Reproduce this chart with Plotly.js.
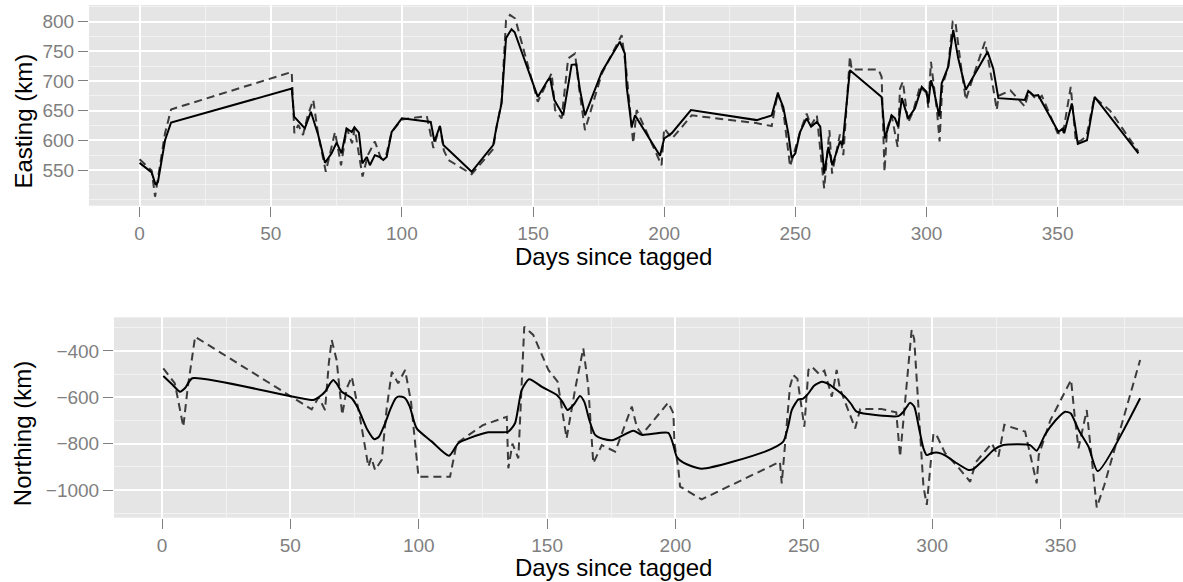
<!DOCTYPE html>
<html>
<head>
<meta charset="utf-8">
<script src="https://cdn.plot.ly/plotly-3.0.1.min.js"></script>
<style>
  html, body { margin: 0; padding: 0; background: #ffffff; }
  #chart { width: 1183px; height: 582px; }
</style>
</head>
<body>
<div id="chart"></div>
<script>
// ---- Easting: observed (dashed) ----
const dayEastObs = [0,4.6,5.9,9.7,12,58,59,60.5,62.3,64,66.2,68,71,74.5,76.8,79,81,82,85,87,89.7,92,94,96.1,100,109.5,112,114.5,116,117.7,126.6,134.8,136,138,139.7,141.2,143.2,146.3,151.8,157.1,158.4,160.9,163.4,166,167.5,169.8,176.2,183.8,185.5,188.2,189.5,199,200,203,207.3,210.5,235,241,243.3,245.4,248,251.8,254.3,256,258.2,261,263,264,267,268.3,270.8,271.5,281.7,282.9,284,285,286.7,289,289.9,291,293,295,297.5,300,300.7,301.7,304,305,306,308.3,310,311,313,315,318,322.3,325,326.8,327.5,332,337.5,339,342,344,350,352,355,357,359,361,364,370,380.8];
const eastObs = [568,549,505,612,652,715,612,626,609,640,668,612,547,614,558,620,595,620,539,575,598,570,575,614,635,641,587,624,583,567,543,585,620,665,802,811,805,753,665,713,651,637,738,746,690,617,712,777,720,595,651,558,620,603,626,642,629,624,681,650,556,614,645,625,642,519,617,544,610,575,741,719,719,707,547,620,642,589,687,699,630,650,690,680,655,732,650,598,690,725,800,800,730,668,710,766,700,651,675,684,657,683,668,675,612,610,690,596,600,607,672,650,581];

// ---- Easting: smoothed (solid) ----
const dayEastFit = [0,4.6,6.1,7,9.7,12,58,58.9,63,65.3,68.1,70.7,73.2,75.1,77,78.9,80.9,81.9,83.6,84.9,86.6,87.8,89.7,91.5,92.9,94.2,96.1,100,111,112.4,114.5,115.8,126.6,134.8,136.1,138,139.7,141.8,143,151.8,155.6,156.5,158.1,161.5,164.7,166.5,167.9,169.8,176.2,183.1,185,185.7,187.6,188.9,198.4,200,202.9,210.2,235.3,241,243.3,245.4,247.3,248.6,250,251.8,254.3,256,258.2,259.5,261,262.6,264.1,267,268,270.8,282.9,284.2,286.7,288,289.2,290.6,293,295.6,298.2,300,300.7,301.7,302.5,304.9,305.8,308.3,310.2,312.1,315,323.3,325.5,327.4,337.5,338.8,341,342.6,350.3,352,352.5,355.4,357.7,361.2,364.1,380.8];
const eastFit = [562,546,525,530,600,630,687,640,620,648,609,562,578,596,578,620,614,622,613,561,572,558,575,572,567,572,614,637,631,598,624,592,547,592,623,662,772,787,782,673,701,705,668,642,727,728,685,642,715,766,746,690,623,642,574,603,612,651,634,642,679,656,612,570,578,614,637,623,631,623,544,589,558,598,592,718,673,603,642,637,623,671,637,654,690,682,662,701,690,640,696,724,786,738,685,749,720,671,668,683,675,676,614,620,612,662,594,600,673,578];

// ---- Northing: observed (dashed) ----
const dayNorthObs = [0.5,5,8.3,10,12.9,58.3,61,63.5,65,66.1,68,70.2,72,73.9,77,80.4,81.5,83,85.6,87.5,89.5,92,94.7,97,99.9,112.2,114.8,125,134.3,134.9,136.5,138.8,141.1,144.6,150.5,154.1,157.6,161,164.1,166,168,171.3,176.5,183,185,187,197.2,199.2,199.6,201.1,201.8,210.2,240.7,241.4,244.6,245.9,247.5,250.2,251.8,253.1,256,258,260.9,262.8,264,270,272,280,286,287.5,292,293,296.6,297.9,300.5,302,305,310,314.8,317,323.2,325.8,328.1,336.2,340.7,341.5,346,354.1,355.5,357,360.2,364.1,367,381];
const northObs = [-475,-540,-727,-560,-339,-652,-600,-655,-450,-353,-439,-676,-560,-511,-680,-899,-860,-913,-870,-650,-490,-540,-482,-620,-942,-942,-798,-720,-684,-906,-800,-863,-296,-331,-482,-533,-777,-560,-389,-550,-884,-806,-834,-640,-730,-760,-623,-669,-798,-906,-985,-1040,-878,-971,-554,-504,-520,-727,-482,-468,-500,-485,-597,-482,-560,-734,-650,-650,-665,-856,-310,-350,-985,-1064,-755,-770,-840,-900,-964,-880,-798,-856,-719,-748,-971,-850,-700,-525,-680,-820,-655,-1075,-980,-439];

// ---- Northing: smoothed (solid) ----
const dayNorthFit = [0.5,4,7,9,11.8,59,61,63.5,65.5,66.7,68,70,72,73.9,76,77.8,80,82.7,84.5,86.9,89,91,92,93.5,94.7,96.5,99.2,105,111.8,115.4,120,127.1,134.9,137.5,140.1,143,148,153.8,156,158,160.5,162.8,164.5,166.5,168.7,172,175.8,183.6,186.9,197.2,199,200.5,203.1,210.2,234.9,242,244,245.3,247.9,249.5,251.8,254,257,260,263,266,268.5,270.6,286.8,288.8,291.4,293,295,296.6,297.9,300,302.4,305,309,314.1,316,320,323.9,327.7,338.1,340.7,344,348,351.8,354,357,360.9,364.5,381];
const northFit = [-508,-545,-576,-560,-518,-612,-600,-576,-540,-525,-540,-576,-590,-604,-640,-684,-740,-781,-770,-712,-650,-605,-597,-598,-604,-640,-734,-790,-852,-798,-775,-751,-748,-712,-569,-522,-555,-590,-620,-655,-630,-594,-620,-700,-762,-780,-784,-744,-762,-753,-800,-856,-882,-908,-834,-791,-720,-655,-609,-607,-583,-550,-533,-545,-570,-597,-630,-662,-681,-662,-623,-640,-740,-820,-849,-840,-839,-850,-880,-913,-910,-870,-827,-806,-806,-830,-760,-700,-662,-670,-740,-813,-918,-604];

// ---- Tick labels ----
const dayTicks = [0,50,100,150,200,250,300,350];
const eastTicks = [550,600,650,700,750,800];
const northTicks = [-1000,-800,-600,-400];

const W = 1183, H = 582;
const FONT = '"Liberation Sans", Arial, Helvetica, sans-serif';
const GREY = '#7F7F7F';

const dashStyle = {color: 'rgba(40,40,40,0.9)', width: 2, dash: '8px,5px'};
const solidStyle = {color: '#000000', width: 2};
const smoothStyle = {color: '#000000', width: 2, shape: 'spline', smoothing: 0.6};

const traces = [
  {x: dayEastObs, y: eastObs, type: 'scatter', mode: 'lines', line: dashStyle, xaxis: 'x', yaxis: 'y', hoverinfo: 'skip'},
  {x: dayEastFit, y: eastFit, type: 'scatter', mode: 'lines', line: solidStyle, xaxis: 'x', yaxis: 'y', hoverinfo: 'skip'},
  {x: dayNorthObs, y: northObs, type: 'scatter', mode: 'lines', line: dashStyle, xaxis: 'x2', yaxis: 'y2', hoverinfo: 'skip'},
  {x: dayNorthFit, y: northFit, type: 'scatter', mode: 'lines', line: smoothStyle, xaxis: 'x2', yaxis: 'y2', hoverinfo: 'skip'}
];

function axisBase(extra) {
  return Object.assign({
    showgrid: true, gridcolor: '#FFFFFF', gridwidth: 2,
    zeroline: false, showline: false,
    ticks: 'outside', ticklen: 10, tickwidth: 1, tickcolor: GREY,
    tickfont: {family: FONT, size: 19, color: GREY},
    tickmode: 'array'
  }, extra);
}
const minorGrid = (dt) => ({tickmode: 'linear', tick0: 0, dtick: dt, showgrid: true, gridcolor: '#F2F2F2', gridwidth: 1, ticks: ''});

const layout = {
  width: W, height: H,
  margin: {l: 0, r: 0, t: 0, b: 0},
  paper_bgcolor: '#FFFFFF',
  plot_bgcolor: '#E5E5E5',
  showlegend: false,
  font: {family: FONT},
  xaxis: axisBase({domain: [89 / W, 1], range: [-19.29, 397.8], tickvals: dayTicks, anchor: 'y', minor: minorGrid(25)}),
  yaxis: axisBase({domain: [(H - 205.7) / H, (H - 5) / H], range: [489.9, 827.8], tickvals: eastTicks, anchor: 'x', minor: minorGrid(25)}),
  xaxis2: axisBase({domain: [114 / W, 1], range: [-18.7, 397.7], tickvals: dayTicks, anchor: 'y2', minor: minorGrid(25)}),
  yaxis2: axisBase({domain: [(H - 517.7) / H, (H - 317.3) / H], range: [-1119, -255.2], tickvals: northTicks, anchor: 'x2', minor: minorGrid(100)}),
  annotations: [
    {text: 'Easting (km)', xref: 'paper', yref: 'paper', x: 22.5 / W, y: (H - 121) / H, textangle: -90, showarrow: false, xanchor: 'center', yanchor: 'middle', font: {family: FONT, size: 24, color: '#000000'}},
    {text: 'Northing (km)', xref: 'paper', yref: 'paper', x: 22.5 / W, y: (H - 433.7) / H, textangle: -90, showarrow: false, xanchor: 'center', yanchor: 'middle', font: {family: FONT, size: 24, color: '#000000'}},
    {text: 'Days since tagged', xref: 'paper', yref: 'paper', x: 613 / W, y: (H - 256) / H, showarrow: false, xanchor: 'center', yanchor: 'middle', font: {family: FONT, size: 24, color: '#000000'}},
    {text: 'Days since tagged', xref: 'paper', yref: 'paper', x: 613 / W, y: (H - 567) / H, showarrow: false, xanchor: 'center', yanchor: 'middle', font: {family: FONT, size: 24, color: '#000000'}}
  ]
};

Plotly.newPlot('chart', traces, layout, {displayModeBar: false, staticPlot: true});
</script>
</body>
</html>
